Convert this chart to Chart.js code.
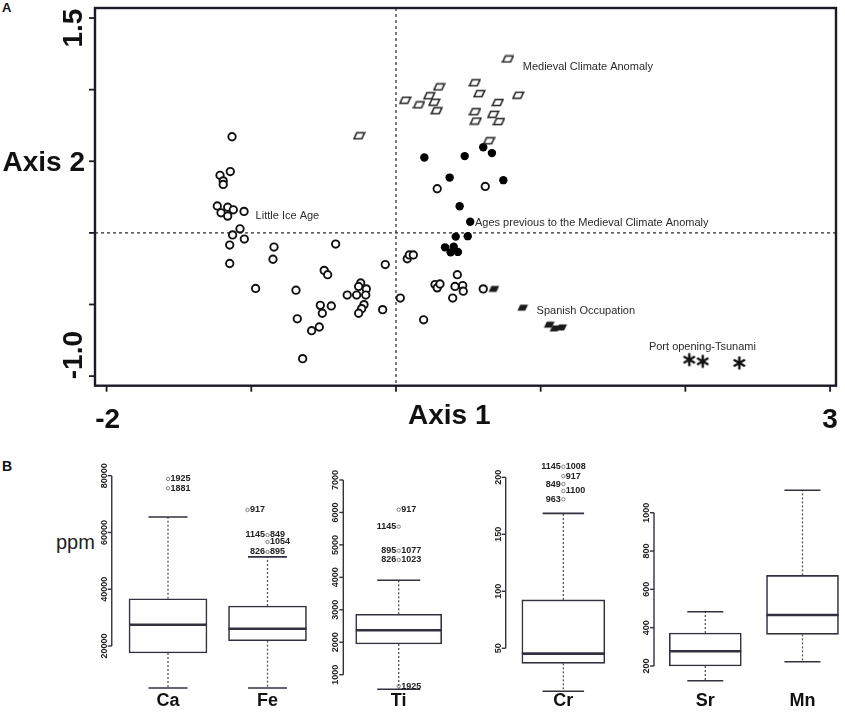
<!DOCTYPE html>
<html><head><meta charset="utf-8">
<script src="https://cdn.jsdelivr.net/npm/chart.js@4.4.1/dist/chart.umd.min.js"></script>
<style>
html,body{margin:0;padding:0;background:#fff;overflow:hidden;width:845px;height:715px;position:relative;}
canvas{position:absolute;}
.txt{position:absolute;font-family:"Liberation Sans",Arial,sans-serif;color:#111;white-space:nowrap;}
</style></head><body>
<div class="txt" style="left:2px;top:0px;font-weight:bold;font-size:13px;">A</div>
<div class="txt" style="left:2px;top:458px;font-weight:bold;font-size:14px;">B</div>
<div class="txt" style="left:56px;top:531px;font-size:20px;color:#222;">ppm</div>
<canvas id="cA" width="845" height="445" style="left:0;top:0;"></canvas>
<canvas id="cB1" width="240" height="260" style="left:90px;top:455px;"></canvas>
<canvas id="cB2" width="135" height="260" style="left:320px;top:455px;"></canvas>
<canvas id="cB3" width="140" height="260" style="left:480px;top:455px;"></canvas>
<canvas id="cB4" width="230" height="260" style="left:630px;top:455px;"></canvas>
<script>
// ---------------- Panel A data: ordination scores [Axis 1, Axis 2] ----------------
const otherSamples = [[-1.133,0.671],[-1.145,0.428],[-1.216,0.402],[-1.194,0.363],[-1.194,0.338],[-1.235,0.188],[-1.163,0.179],[-1.209,0.140],[-1.124,0.161],[-1.163,0.117],[-1.050,0.150],[-1.078,0.028],[-1.129,-0.014],[-1.048,-0.043],[-1.149,-0.085],[-1.149,-0.214],[-0.843,-0.099],[-0.850,-0.184],[-0.970,-0.388],[-0.417,-0.078],[-0.496,-0.262],[-0.472,-0.292],[-0.691,-0.400],[-0.682,-0.600],[-0.583,-0.683],[-0.530,-0.657],[-0.523,-0.506],[-0.509,-0.561],[-0.447,-0.510],[-0.645,-0.878],[-0.337,-0.434],[-0.272,-0.434],[-0.244,-0.350],[-0.258,-0.374],[-0.205,-0.391],[-0.209,-0.434],[-0.221,-0.501],[-0.237,-0.529],[-0.258,-0.561],[-0.092,-0.536],[-0.074,-0.221],[0.030,-0.455],[0.078,-0.181],[0.092,-0.154],[0.120,-0.154],[0.191,-0.607],[0.270,-0.361],[0.285,-0.384],[0.304,-0.357],[0.424,-0.292],[0.408,-0.374],[0.392,-0.455],[0.461,-0.368],[0.465,-0.407],[0.603,-0.391],[0.285,0.308],[0.617,0.324]];
const prevMCA = [[0.196,0.526],[0.475,0.536],[0.603,0.598],[0.663,0.557],[0.371,0.386],[0.742,0.368],[0.440,0.186],[0.513,0.078],[0.413,-0.026],[0.496,-0.023],[0.339,-0.101],[0.399,-0.097],[0.378,-0.136],[0.428,-0.133]];
const mca = [[0.774,1.214],[0.064,0.926],[0.159,0.894],[0.230,0.957],[0.299,1.019],[0.265,0.912],[0.281,0.853],[0.544,1.048],[0.576,0.972],[0.546,0.846],[0.551,0.781],[0.672,0.828],[0.712,0.777],[0.703,0.910],[0.845,0.961],[0.643,0.643],[-0.254,0.678]];
const spanish = [[0.677,-0.391],[0.876,-0.522],[1.059,-0.641],[1.099,-0.667],[1.145,-0.660]];
const tsunami = [[2.027,-0.885],[2.120,-0.897],[2.373,-0.908]];
const axisAXTicks = [-2,-1,0,1,2,3];
const axisAYTicks = [1.5,1,0.5,0,-0.5,-1];
const axisAXRange = [-2.080, 3.041];
const axisAYRange = [-1.067, 1.570];
const periodNames = ['Medieval Climate Anomaly','Little Ice Age','Ages previous to the Medieval Climate Anomaly','Spanish Occupation','Port opening-Tsunami'];
const periodAnchors = [[0.876,1.157],[-0.970,0.117],[0.546,0.069],[0.972,-0.547],[1.748,-0.798]];

// ---------------- Panel B data: element concentrations (ppm) ----------------
const groupB1 = ['Ca','Fe'];
const groupB2 = ['Ti'];
const groupB3 = ['Cr'];
const groupB4 = ['Sr','Mn'];
const whiskerLow  = {Ca:5200,  Fe:5200,  Ti:550,  Cr:12.3, Sr:123, Mn:222};
const quartile1   = {Ca:17530, Fe:21860, Ti:1946, Cr:36.8, Sr:200, Mn:365};
const medians     = {Ca:27500, Fe:26100, Ti:2368, Cr:45.3, Sr:277, Mn:466};
const quartile3   = {Ca:36660, Fe:34100, Ti:2861, Cr:92.4, Sr:372, Mn:673};
const whiskerHigh = {Ca:65450, Fe:51400, Ti:3909, Cr:168.4, Sr:483, Mn:1117};
const caOutliers = [78840, 75560];
const caOutlierIds = [['','1925'],['','1881']];
const feOutliers = [67915, 59107, 56641, 53118];
const feOutlierIds = [['','917'],['1145','849'],['','1054'],['826','895']];
const tiOutliers = [6085, 5561, 4821, 4535, 650];
const tiOutlierIds = [['','917'],['1145',''],['895','1077'],['826','1023'],['','1925']];
const crOutliers = [209.3, 201.1, 194.1, 188.0, 180.7];
const crOutlierIds = [['1145','1008'],['','917'],['849',''],['','1100'],['963','']];
const ticksB1 = [20000,40000,60000,80000];
const ticksB2 = [1000,2000,3000,4000,5000,6000,7000];
const ticksB3 = [50,100,150,200];
const ticksB4 = [200,400,600,800,1000];
const rangeB1 = [975, 85531];
const rangeB2 = [220, 7616];
const rangeB3 = [4.6, 215.2];
const rangeB4 = [22.6, 1275];

// ---------------- styling helpers ----------------
const FONT = '"Liberation Sans", Arial, sans-serif';
const INK = '#1c1a28';
Chart.defaults.font.family = FONT;

function paraImg(filled){
  const c = document.createElement('canvas'); c.width = 13; c.height = 9;
  const g = c.getContext('2d');
  g.beginPath(); g.moveTo(4,1.5); g.lineTo(11.8,1.5); g.lineTo(9,7.5); g.lineTo(1.2,7.5); g.closePath();
  if (filled){ g.fillStyle = '#1a1a1a'; g.fill(); } else { g.lineWidth = 1.6; g.strokeStyle = '#222'; g.stroke(); }
  return c;
}
function starImg(){
  const c = document.createElement('canvas'); c.width = 16; c.height = 16;
  const g = c.getContext('2d'); g.strokeStyle = '#111'; g.lineWidth = 2.4; g.lineCap = 'butt';
  for (let k = 0; k < 3; k++){
    const a = Math.PI/2 + k*Math.PI/3;
    g.beginPath(); g.moveTo(8 + 6.5*Math.cos(a), 8 + 6.5*Math.sin(a)); g.lineTo(8 - 6.5*Math.cos(a), 8 - 6.5*Math.sin(a)); g.stroke();
  }
  return c;
}
const xy = arr => arr.map(p => ({x:p[0], y:p[1]}));

const panelAPlugin = {
  id: 'panelA',
  beforeDatasetsDraw(chart){
    const {ctx, chartArea:a, scales:{x, y}} = chart;
    ctx.save(); ctx.strokeStyle = '#333'; ctx.lineWidth = 1.3; ctx.setLineDash([3,3]);
    const x0 = x.getPixelForValue(0), y0 = y.getPixelForValue(0);
    ctx.beginPath(); ctx.moveTo(x0, a.top); ctx.lineTo(x0, a.bottom); ctx.stroke();
    ctx.beginPath(); ctx.moveTo(a.left, y0); ctx.lineTo(a.right, y0); ctx.stroke();
    ctx.restore();
  },
  afterDatasetsDraw(chart){
    const {ctx, chartArea:a, scales:{x, y}} = chart;
    ctx.save();
    ctx.strokeStyle = INK; ctx.lineWidth = 2.4;
    ctx.strokeRect(a.left, a.top, a.right - a.left, a.bottom - a.top);
    ctx.lineWidth = 1.8;
    axisAXTicks.forEach(v => { const px = x.getPixelForValue(v); ctx.beginPath(); ctx.moveTo(px, a.bottom); ctx.lineTo(px, a.bottom + 6); ctx.stroke(); });
    axisAYTicks.forEach(v => { const py = y.getPixelForValue(v); ctx.beginPath(); ctx.moveTo(a.left, py); ctx.lineTo(a.left - 6, py); ctx.stroke(); });
    // tick labels
    ctx.fillStyle = '#111'; ctx.font = 'bold 28px ' + FONT;
    ctx.textBaseline = 'middle';
    ctx.textAlign = 'center';
    ctx.fillText('-2', x.getPixelForValue(-2) + 1, 420);
    ctx.fillText('3', x.getPixelForValue(3), 420);
    ctx.textAlign = 'left';
    ctx.fillText('Axis 1', x.getPixelForValue(0) + 12, 416);
    ctx.textAlign = 'right';
    ctx.fillText('Axis 2', a.left - 10, y.getPixelForValue(0.5) + 2);
    const rot = (t, cx, cy) => { ctx.save(); ctx.translate(cx, cy); ctx.rotate(-Math.PI/2); ctx.textAlign = 'center'; ctx.textBaseline = 'middle'; ctx.fillText(t, 0, 0); ctx.restore(); };
    rot('1.5', a.left - 21, y.getPixelForValue(1.5) + 10);
    rot('-1.0', a.left - 21, y.getPixelForValue(-1) - 21);
    // period annotations
    ctx.font = '11px ' + FONT; ctx.fillStyle = '#2b2b2b'; ctx.textAlign = 'left'; ctx.textBaseline = 'middle';
    periodNames.forEach((t, i) => ctx.fillText(t, x.getPixelForValue(periodAnchors[i][0]), y.getPixelForValue(periodAnchors[i][1])));
    ctx.restore();
  }
};

new Chart(document.getElementById('cA'), {
  type: 'scatter',
  data: { datasets: [
    { data: xy(tsunami), pointStyle: starImg(), pointRadius: 7 },
    { data: xy(spanish), pointStyle: paraImg(true), pointRadius: 5 },
    { data: xy(mca), pointStyle: paraImg(false), pointRadius: 5 },
    { data: xy(prevMCA), pointStyle: 'circle', pointRadius: 4.2, borderWidth: 0, backgroundColor: '#000' },
    { data: xy(otherSamples), pointStyle: 'circle', pointRadius: 3.7, borderWidth: 1.9, borderColor: '#111', backgroundColor: '#fff' }
  ]},
  options: {
    responsive: false, animation: false, events: [],
    layout: { padding: { left: 95, right: 9, top: 3.3, bottom: 59.3 } },
    scales: {
      x: { type: 'linear', display: false, min: axisAXRange[0], max: axisAXRange[1] },
      y: { type: 'linear', display: false, min: axisAYRange[0], max: axisAYRange[1] }
    },
    plugins: { legend: { display: false }, tooltip: { enabled: false } }
  },
  plugins: [panelAPlugin]
});

// ---------------- box plots ----------------
function drawOutliers(ctx, x, y, vals, ids, cat, dxs){
  ctx.save(); ctx.font = 'bold 9px ' + FONT; ctx.textBaseline = 'middle'; ctx.fillStyle = '#222';
  vals.forEach((v, k) => {
    const px = x.getPixelForValue(cat) + ((dxs && dxs[k]) || 0), py = y.getPixelForValue(v);
    ctx.lineWidth = 0.9; ctx.strokeStyle = '#777';
    ctx.beginPath(); ctx.arc(px, py, 1.7, 0, Math.PI*2); ctx.stroke();
    const [l, r] = ids[k];
    if (l){ ctx.textAlign = 'right'; ctx.fillText(l, px - 2.5, py); }
    if (r){ ctx.textAlign = 'left'; ctx.fillText(r, px + 2.5, py); }
  });
  ctx.restore();
}

function makeBox(id, cats, ticks, range, outlierSets, cfg){
  const boxPlugin = {
    id: 'box' + id,
    afterDatasetsDraw(chart){
      const {ctx, chartArea:a, scales:{x, y}} = chart;
      ctx.save();
      cats.forEach((c, i) => {
        const cx = x.getPixelForValue(i), hw = cfg.bar/2;
        // median
        ctx.strokeStyle = '#34303f'; ctx.lineWidth = 2.6; ctx.setLineDash([]);
        ctx.beginPath(); ctx.moveTo(cx - hw, y.getPixelForValue(medians[c])); ctx.lineTo(cx + hw, y.getPixelForValue(medians[c])); ctx.stroke();
        // whiskers
        ctx.lineWidth = 1.3; ctx.setLineDash([2,2]); ctx.strokeStyle = '#555';
        ctx.beginPath(); ctx.moveTo(cx, y.getPixelForValue(quartile3[c])); ctx.lineTo(cx, y.getPixelForValue(whiskerHigh[c])); ctx.stroke();
        ctx.beginPath(); ctx.moveTo(cx, y.getPixelForValue(quartile1[c])); ctx.lineTo(cx, y.getPixelForValue(whiskerLow[c])); ctx.stroke();
        // caps
        ctx.setLineDash([]); ctx.lineWidth = 1.6; ctx.strokeStyle = '#34303f';
        [whiskerHigh[c], whiskerLow[c]].forEach(v => { const py = y.getPixelForValue(v); ctx.beginPath(); ctx.moveTo(cx - hw/2, py); ctx.lineTo(cx + hw/2, py); ctx.stroke(); });
        // category label
        ctx.fillStyle = '#111'; ctx.font = 'bold 18px ' + FONT; ctx.textAlign = 'center'; ctx.textBaseline = 'middle';
        ctx.fillText(c, cx, a.bottom + 1);
      });
      outlierSets.forEach(s => drawOutliers(ctx, x, y, s.vals, s.ids, s.cat, s.dx));
      // y axis
      const ax = a.left - cfg.axisGap;
      ctx.strokeStyle = '#34303f'; ctx.lineWidth = 1.4;
      ctx.beginPath(); ctx.moveTo(ax, y.getPixelForValue(ticks[0])); ctx.lineTo(ax, y.getPixelForValue(ticks[ticks.length-1])); ctx.stroke();
      ctx.font = 'bold 9px ' + FONT; ctx.fillStyle = '#222';
      ticks.forEach(t => {
        const py = y.getPixelForValue(t);
        ctx.beginPath(); ctx.moveTo(ax, py); ctx.lineTo(ax - 4, py); ctx.stroke();
        ctx.save(); ctx.translate(ax - 5, py); ctx.rotate(-Math.PI/2); ctx.textAlign = 'center'; ctx.textBaseline = 'alphabetic'; ctx.fillText(String(t), 0, 0); ctx.restore();
      });
      ctx.restore();
    }
  };
  new Chart(document.getElementById(id), {
    type: 'bar',
    data: { labels: cats, datasets: [{
      data: cats.map(c => [quartile1[c], quartile3[c]]),
      backgroundColor: '#fff', borderColor: '#34303f', borderWidth: 1.6, borderSkipped: false,
      barThickness: cfg.bar
    }]},
    options: {
      responsive: false, animation: false, events: [],
      layout: { padding: cfg.pad },
      scales: {
        x: { display: false },
        y: { display: false, min: range[0], max: range[1] }
      },
      plugins: { legend: { display: false }, tooltip: { enabled: false } }
    },
    plugins: [boxPlugin]
  });
}

makeBox('cB1', groupB1, ticksB1, rangeB1,
  [{vals: caOutliers, ids: caOutlierIds, cat: 0}, {vals: feOutliers, ids: feOutlierIds, cat: 1, dx: [-20,0,0,0]}],
  { bar: 78, axisGap: 6.5, pad: {left: 28.25, right: 12.75, top: 5, bottom: 15} });
makeBox('cB2', groupB2, ticksB2, rangeB2,
  [{vals: tiOutliers, ids: tiOutlierIds, cat: 0}],
  { bar: 86, axisGap: 6.7, pad: {left: 30, right: 7.6, top: 5, bottom: 15} });
makeBox('cB3', groupB3, ticksB3, rangeB3,
  [{vals: crOutliers, ids: crOutlierIds, cat: 0}],
  { bar: 83, axisGap: 9.3, pad: {left: 35, right: 8.3, top: 5, bottom: 15} });
makeBox('cB4', groupB4, ticksB4, rangeB4, [],
  { bar: 72, axisGap: 2.7, pad: {left: 26.7, right: 8.9, top: 5, bottom: 15} });
</script>
</body></html>
